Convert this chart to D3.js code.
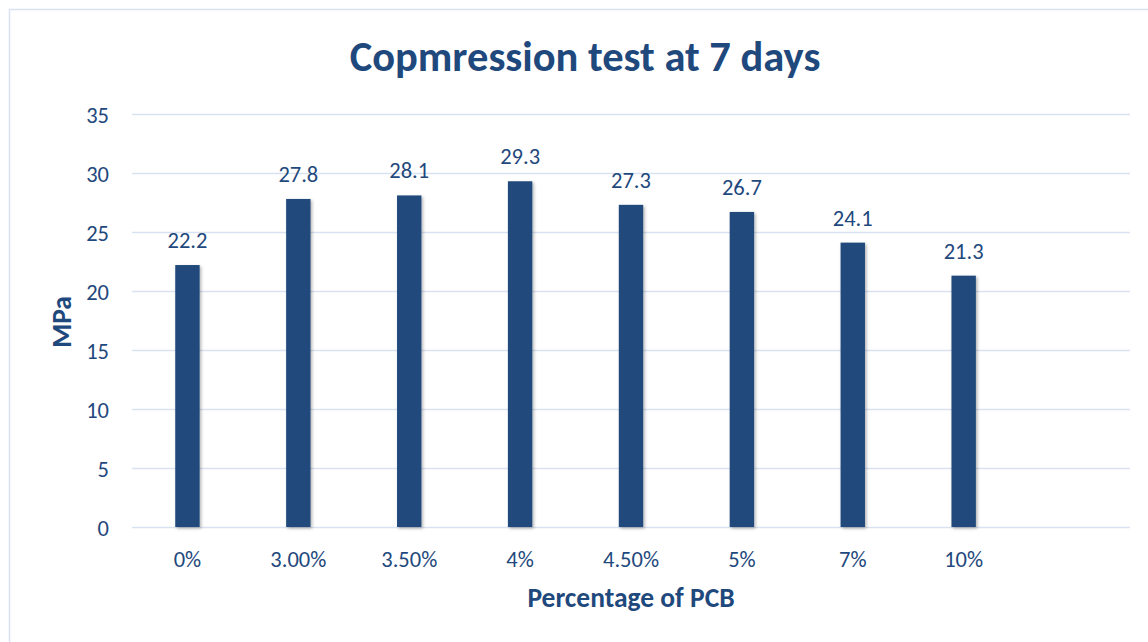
<!DOCTYPE html>
<html>
<head>
<meta charset="utf-8">
<script src="https://cdn.jsdelivr.net/npm/d3@7/dist/d3.min.js"></script>
<style>
  html, body { margin: 0; padding: 0; background: #fff; }
  svg { display: block; }
  text { font-family: Carlito, Lato, "Open Sans", sans-serif; }
</style>
</head>
<body>
<script>
const categories = ["0%", "3.00%", "3.50%", "4%", "4.50%", "5%", "7%", "10%"];
const emptySlots = [""];
const values = [22.2, 27.8, 28.1, 29.3, 27.3, 26.7, 24.1, 21.3];
const yTicks = [0, 5, 10, 15, 20, 25, 30, 35];
const titleText = "Copmression test at 7 days";
const xTitle = "Percentage of PCB";
const yTitle = "MPa";

const W = 1148, H = 642;
const margin = { left: 132, right: 18, top: 114, bottom: 115 };
const color = "#1f497d";
const barColor = "#204a7b";

const svg = d3.select("body").append("svg").attr("width", W).attr("height", H);

svg.append("rect")
  .attr("x", 9.5).attr("y", 9.5).attr("width", W + 10).attr("height", H + 10)
  .attr("fill", "#fff").attr("stroke", "#d9e2f1").attr("stroke-width", 1.5);

const defs = svg.append("defs");
const f = defs.append("filter").attr("id", "shadow").attr("x", "-30%").attr("y", "-5%").attr("width", "160%").attr("height", "115%");
f.append("feDropShadow").attr("dx", 1.5).attr("dy", 1.5).attr("stdDeviation", 1.5).attr("flood-color", "#000").attr("flood-opacity", 0.3);

const x = d3.scaleBand()
  .domain(categories.concat(emptySlots))
  .range([margin.left, W - margin.right])
  .paddingInner(0.78).paddingOuter(0.39);

const y = d3.scaleLinear().domain([0, 35]).range([H - margin.bottom, margin.top]);

// gridlines
svg.append("g").selectAll("line").data(yTicks).join("line")
  .attr("x1", margin.left).attr("x2", W - margin.right)
  .attr("y1", d => y(d) + 0.5).attr("y2", d => y(d) + 0.5)
  .attr("stroke", "#d9e2f1").attr("stroke-width", 1.5);

// y axis labels
const yAxis = d3.axisLeft(y).tickValues(yTicks).tickSize(0).tickPadding(0);
const yg = svg.append("g").attr("transform", `translate(${margin.left - 23},0)`).call(yAxis);
yg.select(".domain").remove();
yg.selectAll("text").attr("fill", color).attr("font-size", 22.5).attr("dy", "0.36em");

// x axis labels
const xAxis = d3.axisBottom(x).tickSize(0).tickPadding(0);
const xg = svg.append("g").attr("transform", `translate(0,559)`).call(xAxis);
xg.select(".domain").remove();
xg.selectAll("text").attr("fill", color).attr("font-size", 22.5).attr("dy", "0.36em");

// bars
const data = categories.map((c, i) => ({ c, v: values[i] }));
svg.append("g").selectAll("rect").data(data).join("rect")
  .attr("x", d => x(d.c)).attr("width", x.bandwidth())
  .attr("y", d => y(d.v)).attr("height", d => y(0) - y(d.v))
  .attr("fill", barColor).attr("filter", "url(#shadow)");

// value labels
svg.append("g").selectAll("text").data(data).join("text")
  .attr("x", d => x(d.c) + x.bandwidth() / 2)
  .attr("y", d => y(d.v) - 17)
  .attr("text-anchor", "middle")
  .attr("fill", color).attr("font-size", 22.5)
  .text(d => d.v.toFixed(1));

// title
svg.append("text")
  .attr("x", 585).attr("y", 71)
  .attr("text-anchor", "middle")
  .attr("fill", color).attr("font-size", 42.5).attr("font-weight", "bold")
  .text(titleText);

svg.append("text")
  .attr("x", 631).attr("y", 607)
  .attr("text-anchor", "middle")
  .attr("fill", color).attr("font-size", 27.5).attr("font-weight", "bold")
  .text(xTitle);

svg.append("text")
  .attr("transform", `translate(71,322) rotate(-90)`)
  .attr("text-anchor", "middle")
  .attr("fill", color).attr("font-size", 27.5).attr("font-weight", "bold")
  .text(yTitle);
</script>
</body>
</html>
